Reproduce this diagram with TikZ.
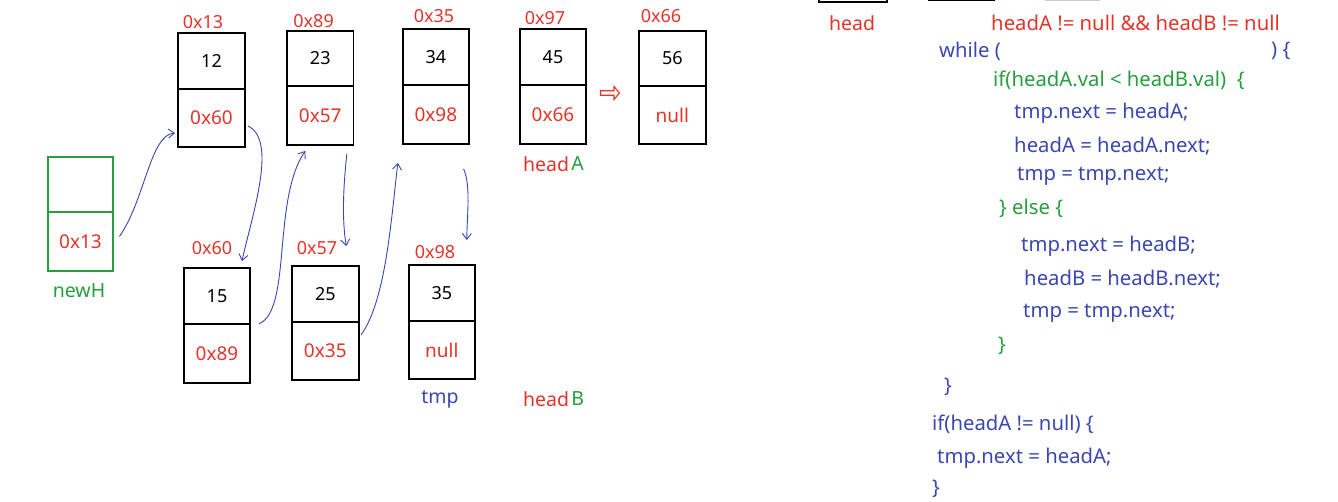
\documentclass[tikz,border=0pt]{standalone}
\usepackage{fontspec}
\setmainfont{Noto Sans}
\usetikzlibrary{arrows.meta,calc,shapes.arrows}
\definecolor{cred}{RGB}{228,52,42}
\definecolor{cgreen}{RGB}{38,158,62}
\definecolor{cblue}{RGB}{58,70,178}
\newcommand\llnode[9]{%
  \node[cell, minimum width={#3-#2}, minimum height={#5-#4}] (#1t) at ({(#2+#3)/2},{(#4+#5)/2}) {#7};
  \node[cell, ptrfont, minimum width={#3-#2}, minimum height={#6-#5}, text=#9] (#1b) at ({(#2+#3)/2},{(#5+#6)/2}) {#8};
}
\begin{document}
\begin{tikzpicture}[x=1pt,y=-1pt,
  cell/.style={draw=black, line width=1.8pt, inner sep=0pt, font=\fontsize{18}{21}\selectfont},
  ptrfont/.style={font=\fontsize{19}{22}\selectfont},
  addr/.style={text=cred, inner sep=0pt, font=\fontsize{18}{21}\selectfont},
  lbl/.style={inner sep=0pt, font=\fontsize{19.5}{22}\selectfont},
  code/.style={anchor=west, inner sep=0pt, font=\fontsize{20.3}{24}\selectfont},
  link/.style={draw=cblue, line width=0.9pt, -{Straight Barb[length=6pt,width=9pt]}}]
\useasboundingbox (0,0) rectangle (1338,502);
% top row (list A)
\llnode{a}{178}{245}{33}{89}{147}{12}{0x60}{cred}
\llnode{b}{287}{353.5}{31}{86}{145}{23}{0x57}{cred}
\llnode{c}{402.7}{469}{29}{85}{144}{34}{0x98}{cred}
\llnode{d}{520}{586}{29}{85}{144}{45}{0x66}{cred}
\llnode{e}{639}{705.7}{31}{86}{144}{56}{null}{cred}
% bottom row (list B)
\llnode{f}{184}{250}{268}{324}{383}{15}{0x89}{cred}
\llnode{g}{292}{358.6}{266}{322}{380}{25}{0x35}{cred}
\llnode{h}{408.6}{475}{265}{321}{379}{35}{null}{cred}
% newH
\node[cell, draw=cgreen, minimum width=65, minimum height=55] (nt) at (80.5,184.5) {};
\node[cell, ptrfont, draw=cgreen, minimum width=65, minimum height=59, text=cred] (nb) at (80.5,241.5) {0x13};
\node[lbl, text=cgreen] (newH) at (79,291) {newH};
% address labels
\node[addr] (la) at (203,22) {0x13};
\node[addr] (lb) at (313.6,21) {0x89};
\node[addr] (lc) at (434,16) {0x35};
\node[addr] (ld) at (545,18) {0x97};
\node[addr] (le) at (661,16) {0x66};
\node[addr] (lf) at (212,248) {0x60};
\node[addr] (lg) at (317,248) {0x57};
\node[addr] (lh) at (435,252) {0x98};
% pointer labels
\node[lbl, text=cred] (hA) at (546,164) {head};
\node[lbl, text=cgreen, anchor=west] (hAA) at ($(hA.east)+(2,0)$) {A};
\node[lbl, text=cred] (hB) at (546,399) {head};
\node[lbl, text=cgreen, anchor=west] (hBB) at ($(hB.east)+(2,0)$) {B};
\node[lbl, text=cblue] (tmp) at (440,399) {tmp};
% hollow arrow
\node[single arrow, draw=cred, line width=1.1pt, minimum height=19pt, minimum width=13pt,
      single arrow head extend=2.5pt, single arrow tip angle=100, inner sep=0.8pt] (harr) at (609,93) {};
% links
\draw[link] ($(nb.east)+(5.5,-5)$) .. controls (145,200) and (150,135) .. ($(ab.west)+(-2,15)$);
\draw[link] ($(ab.east)+(2,8)$) .. controls (278,140) and (252,215) .. ($(ft.north)+(25,-6)$);
\draw[link] ($(ft.south east)+(8,-1)$) .. controls (292,310) and (272,200) .. ($(bb.south)+(-15,5)$);
\draw[link] ($(bb.south)+(26.6,8)$) .. controls (343,190) and (342,220) .. ($(gt.north)+(21,-19)$);
\draw[link] ($(gb.east)+(1.5,-16)$) .. controls (386,300) and (391,220) .. ($(cb.south)+(-38,18)$);
\draw[link] ($(cb.south)+(27.7,24)$) .. controls (471,185) and (467,215) .. ($(ht.north)+(25,-24)$);
% partial items at top edge
\draw[line width=1.6pt] (819,-6) -- (819,2) -- (887,2) -- (887,-6);
\draw[line width=1.6pt] (928,0.5) -- (995,0.5);
\draw[line width=1.2pt, black!20] (1045,0.3) -- (1100,0.3);
\node[lbl, text=cred] (head) at (852,23) {head};
% code
\node[code, text=cred] (c1) at (991,23) {headA != null \&\& headB != null};
\node[code, text=cblue] (c2) at (939,51) {while (};
\node[code, text=cblue] (c2b) at (1271,51) {) \{};
\node[code, text=cgreen] (c3) at (993,80) {if(headA.val < headB.val)\ \ \{};
\node[code, text=cblue] (c4) at (1014,113) {tmp.next = headA;};
\node[code, text=cblue] (c5) at (1014,146) {headA = headA.next;};
\node[code, text=cblue] (c6) at (1017,176) {tmp = tmp.next;};
\node[code, text=cgreen] (c7) at (999,208) {\} else \{};
\node[code, text=cblue] (c8) at (1021,246) {tmp.next = headB;};
\node[code, text=cblue] (c9) at (1024,279) {headB = headB.next;};
\node[code, text=cblue] (c10) at (1023,313) {tmp = tmp.next;};
\node[code, text=cgreen] (c11) at (998,346) {\}};
\node[code, text=cblue] (c12) at (944,387) {\}};
\node[code, text=cblue] (c13) at (932,424) {if(headA != null) \{};
\node[code, text=cblue] (c14) at (937,458) {tmp.next = headA;};
\node[code, text=cblue] (c15) at (932,489) {\}};
\end{tikzpicture}
\end{document}
